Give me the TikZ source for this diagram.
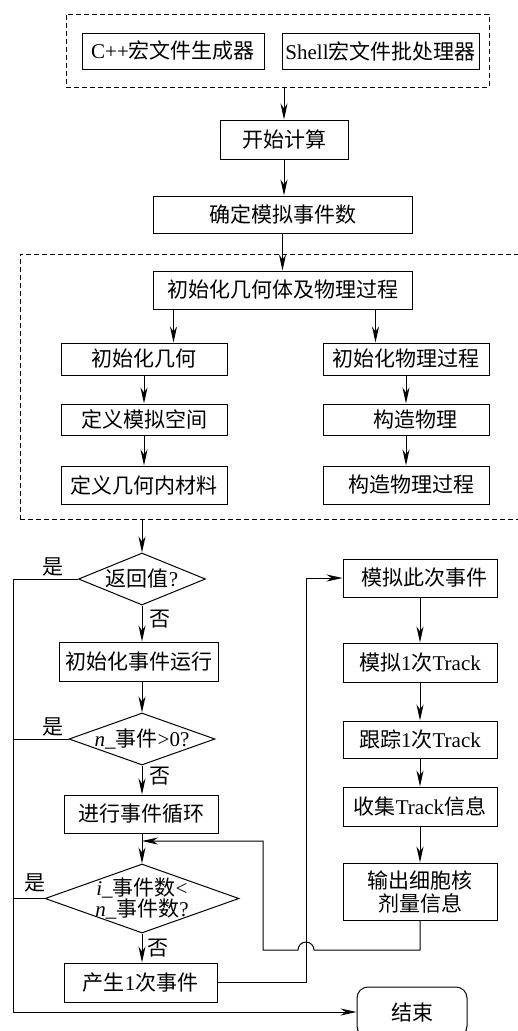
\documentclass[tikz,border=0pt]{standalone}
\usepackage{fontspec}
\setmainfont{Liberation Serif}
\newfontfamily\cjk{Noto Sans CJK SC}
\newcommand\zh[1]{{\cjk #1}}
\usetikzlibrary{shapes.geometric,arrows.meta}
\tikzset{
  lw/.style={line width=1pt},
  box/.style={draw, lw, inner sep=0pt, align=center, font=\fontsize{21}{23}\selectfont},
  dashbox/.style={draw, lw, dash pattern=on 5pt off 3pt, inner sep=0pt},
  dec/.style={diamond, draw, lw, inner sep=0pt},
  lab/.style={font=\fontsize{21}{23}\selectfont, inner sep=0pt},
  arr/.style={lw, -{Stealth[length=16pt,width=7pt,inset=5pt]}},
  ln/.style={lw}
}
\begin{document}
\begin{tikzpicture}[x=1pt,y=-1pt]
\useasboundingbox (0,0) rectangle (517,1031);
% top group
\node[dashbox, minimum width=423pt, minimum height=73pt] (grp1) at (277.5,50.5) {};
\node[box, minimum width=182pt, minimum height=36pt] (cpp) at (173,51) {C++\zh{宏文件生成器}};
\node[box, minimum width=197pt, minimum height=36pt] (shell) at (380.5,51) {Shell\zh{宏文件批处理器}};
\node[box, minimum width=128pt, minimum height=39pt] (start) at (284,139.5) {\zh{开始计算}};
\node[box, minimum width=259pt, minimum height=37pt] (ndef) at (282.5,214.5) {\zh{确定模拟事件数}};
% init group
\node[dashbox, minimum width=505pt, minimum height=265pt] (grp2) at (272.5,386.5) {};
\node[box, minimum width=259pt, minimum height=38pt] (init) at (282.5,290) {\zh{初始化几何体及物理过程}};
\node[box, minimum width=166pt, minimum height=32pt] (geo) at (144,359) {\zh{初始化几何}};
\node[box, minimum width=166pt, minimum height=31pt] (space) at (144,419.5) {\zh{定义模拟空间}};
\node[box, minimum width=166pt, minimum height=38pt] (mat) at (144,485) {\zh{定义几何内材料}};
\node[box, minimum width=166pt, minimum height=32pt] (phys) at (406,359) {\zh{初始化物理过程}};
\node[box, minimum width=166pt, minimum height=31pt] (cphys) at (406,419.5) {\hspace*{18pt}\zh{构造物理}};
\node[box, minimum width=166pt, minimum height=38pt] (cproc) at (406,485) {\hspace*{10pt}\zh{构造物理过程}};
% main column
\node[dec, minimum width=127pt, minimum height=52pt, label={center:\fontsize{21}{23}\selectfont\zh{返回值}?}] (dec1) at (142,579) {};
\node[box, minimum width=159pt, minimum height=39pt] (initrun) at (138.5,661.5) {\zh{初始化事件运行}};
\node[dec, minimum width=146pt, minimum height=52pt, label={center:\fontsize{21}{23}\selectfont\textit{n}\_\zh{事件}>0?}] (dec2) at (142,739) {};
\node[box, minimum width=154pt, minimum height=38pt] (loop) at (141,814) {\zh{进行事件循环}};
\node[dec, minimum width=194pt, minimum height=69pt, label={[align=center, font=\fontsize{21}{19}\selectfont]center:\textit{i}\_\zh{事件数}<\\\textit{n}\_\zh{事件数}?}] (dec3) at (142,898.5) {};
\node[box, minimum width=153pt, minimum height=39pt] (gen) at (140.5,982.5) {\zh{产生}1\zh{次事件}};
% right column
\node[box, minimum width=154pt, minimum height=38pt] (sim) at (420,578) {\hspace*{8pt}\zh{模拟此次事件}};
\node[box, minimum width=154pt, minimum height=39pt] (sim1) at (420,662.5) {\zh{模拟}1\zh{次}Track};
\node[box, minimum width=154pt, minimum height=37pt] (trk) at (420,739.5) {\zh{跟踪}1\zh{次}Track};
\node[box, minimum width=154pt, minimum height=39pt] (col) at (420,806.5) {\zh{收集}Track\zh{信息}};
\node[box, minimum width=154pt, minimum height=57pt, font=\fontsize{21}{23}\selectfont] (out) at (420,891.5) {\zh{输出细胞核}\\\zh{剂量信息}};
\node[box, rounded corners=11pt, minimum width=110pt, minimum height=50pt] (end) at (412,1012) {\zh{结束}};
% labels
\node[lab] (y1) at (53,567) {\zh{是}};
\node[lab] (n1) at (160,619) {\zh{否}};
\node[lab] (y2) at (53,727) {\zh{是}};
\node[lab] (n2) at (160,776) {\zh{否}};
\node[lab] (y3) at (35,883) {\zh{是}};
\node[lab] (n3) at (158,948) {\zh{否}};
% helper coordinates
\coordinate (lx) at (13,1012);
\coordinate (gx) at (306,0);
\coordinate (hop) at (306,950);
\coordinate (lb) at (263,950);
\coordinate (jn) at (142,841);
% connectors top
\draw[arr] (grp1.south -| start.north) -- (start.north);
\draw[arr] (start.south) -- (start.south |- ndef.north);
\draw[arr] (ndef.south) -- (ndef.south |- init.north);
\draw[arr] ([xshift=21pt]init.south west) -- ([xshift=21pt]init.south west |- geo.north);
\draw[arr] ([xshift=-37pt]init.south east) -- ([xshift=-37pt]init.south east |- phys.north);
\draw[arr] (geo) -- (space);
\draw[arr] (space) -- (mat);
\draw[arr] (phys) -- (cphys);
\draw[arr] (cphys) -- (cproc);
% main flow
\draw[arr] (grp2.south -| dec1.north) -- (dec1.north);
\draw[arr] (dec1.south) -- (dec1.south |- initrun.north);
\draw[arr] (initrun.south -| dec2.north) -- (dec2.north);
\draw[arr] (dec2.south) -- (dec2.south |- loop.north);
\draw[arr] (loop.south -| dec3.north) -- (dec3.north);
\draw[arr] (dec3.south) -- (dec3.south |- gen.north);
% yes branches
\draw[arr] (dec1.west) -- (dec1.west -| lx) |- (end.west);
\draw[ln] (dec2.west) -- (dec2.west -| lx);
\draw[ln] (dec3.west) -- (dec3.west -| lx);
% generate -> simulate
\draw[arr] (gen.east) -- (gen.east -| gx) |- (sim.west);
% right column
\draw[arr] (sim) -- (sim1);
\draw[arr] (sim1) -- (trk);
\draw[arr] (trk) -- (col);
\draw[arr] (col) -- (out);
% loop back
\draw[arr] (out.south) |- ([xshift=8pt]hop) arc[start angle=0, end angle=180, radius=8pt] -- (lb) |- (jn);
\end{tikzpicture}
\end{document}
